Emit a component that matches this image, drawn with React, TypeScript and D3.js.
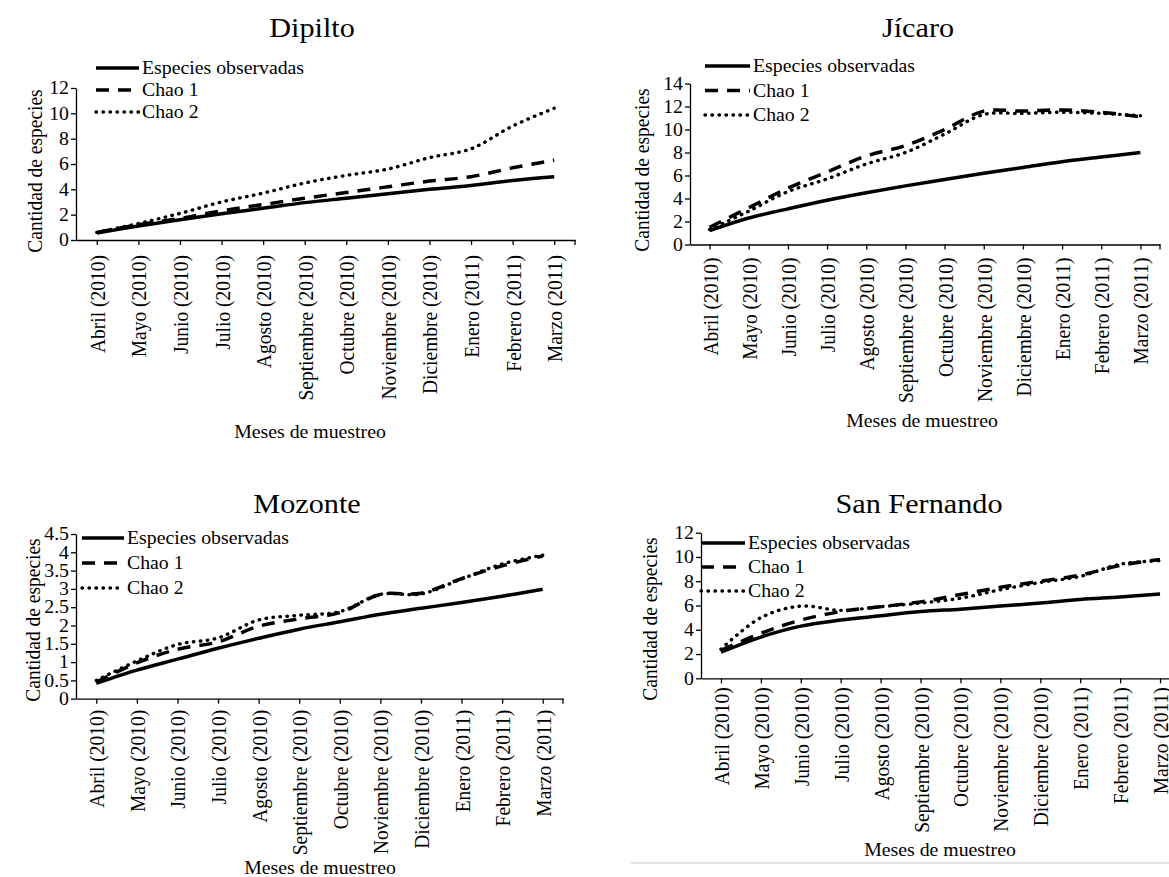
import * as d3 from 'd3';
import React, { useEffect, useRef } from 'react';

// Sampling months (x categories, shared by all four panels)
const months = [
  "Abril (2010)", "Mayo (2010)", "Junio (2010)", "Julio (2010)", "Agosto (2010)",
  "Septiembre (2010)", "Octubre (2010)", "Noviembre (2010)", "Diciembre (2010)",
  "Enero (2011)", "Febrero (2011)", "Marzo (2011)",
];
const seriesNames = ["Especies observadas", "Chao 1", "Chao 2"];

// Dipilto
const dipiltoObs = [0.55, 1.1, 1.6, 2.07, 2.5, 2.95, 3.3, 3.65, 4.0, 4.3, 4.7, 5.0];
const dipiltoChao1 = [0.6, 1.2, 1.7, 2.3, 2.8, 3.3, 3.75, 4.2, 4.65, 5.0, 5.7, 6.3];
const dipiltoChao2 = [0.6, 1.3, 2.1, 3.0, 3.7, 4.5, 5.1, 5.6, 6.5, 7.2, 9.0, 10.4];

// Jícaro
const jicaroObs = [1.2, 2.3, 3.1, 3.85, 4.5, 5.1, 5.65, 6.2, 6.7, 7.2, 7.6, 8.0];
const jicaroChao1 = [1.5, 3.2, 4.9, 6.3, 7.7, 8.6, 10.0, 11.6, 11.6, 11.7, 11.5, 11.1];
const jicaroChao2 = [1.3, 2.9, 4.6, 5.7, 7.0, 8.0, 9.6, 11.3, 11.4, 11.5, 11.4, 11.2];

// Mozonte
const mozonteObs = [0.42, 0.78, 1.08, 1.38, 1.65, 1.9, 2.1, 2.31, 2.47, 2.63, 2.8, 2.99];
const mozonteChao1 = [0.45, 0.98, 1.35, 1.55, 1.98, 2.18, 2.35, 2.85, 2.88, 3.28, 3.63, 3.9];
const mozonteChao2 = [0.5, 1.03, 1.48, 1.66, 2.15, 2.28, 2.38, 2.85, 2.86, 3.27, 3.68, 3.92];

// San Fernando
const sanFernandoObs = [2.15, 3.4, 4.3, 4.8, 5.15, 5.5, 5.7, 5.95, 6.2, 6.5, 6.7, 6.95];
const sanFernandoChao1 = [2.3, 3.7, 4.8, 5.5, 5.9, 6.3, 6.9, 7.5, 8.0, 8.5, 9.3, 9.8];
const sanFernandoChao2 = [2.4, 5.0, 5.95, 5.6, 5.9, 6.2, 6.6, 7.3, 7.9, 8.4, 9.4, 9.7];

// Y tick labels
const ticksDipilto = [0, 2, 4, 6, 8, 10, 12];
const ticksJicaro = [0, 2, 4, 6, 8, 10, 12, 14];
const ticksMozonte = [0, 0.5, 1, 1.5, 2, 2.5, 3, 3.5, 4, 4.5];
const ticksSanFernando = [0, 2, 4, 6, 8, 10, 12];

// Line styles for the three series
const seriesStyles = [
  { width: 3.5, dash: null as string | null, cap: "butt" },
  { width: 3.5, dash: "13 9", cap: "butt" },
  { width: 3.4, dash: "0.5 6.5", cap: "round" },
];

// Panel layout (page pixels)
const panels = [
  {
    title: "Dipilto", series: [dipiltoObs, dipiltoChao1, dipiltoChao2], yTicks: ticksDipilto,
    x0: 76, x1: 575, yTop: 88, yBottom: 240,
    titleX: 312, titleY: 37, legendX: 96, legendW: 43, legendRows: [68, 90, 112],
    yTitleX: 34, yTitleY: 171, labelGap: 15, xTitleX: 310, xTitleY: 438,
  },
  {
    title: "Jícaro", series: [jicaroObs, jicaroChao1, jicaroChao2], yTicks: ticksJicaro,
    x0: 690, x1: 1160, yTop: 83.5, yBottom: 244.5,
    titleX: 918, titleY: 37, legendX: 705, legendW: 45, legendRows: [66, 90.5, 115],
    yTitleX: 641, yTitleY: 170, labelGap: 13, xTitleX: 922, xTitleY: 427,
  },
  {
    title: "Mozonte", series: [mozonteObs, mozonteChao1, mozonteChao2], yTicks: ticksMozonte,
    x0: 76, x1: 563, yTop: 534, yBottom: 698.7,
    titleX: 307, titleY: 513, legendX: 82, legendW: 42, legendRows: [538, 563, 588],
    yTitleX: 32, yTitleY: 620, labelGap: 11, xTitleX: 320, xTitleY: 874,
  },
  {
    title: "San Fernando", series: [sanFernandoObs, sanFernandoChao1, sanFernandoChao2], yTicks: ticksSanFernando,
    x0: 701, x1: 1180, yTop: 532.7, yBottom: 678.3,
    titleX: 919, titleY: 513, legendX: 701, legendW: 44, legendRows: [543, 567, 591],
    yTitleX: 649, yTitleY: 619, labelGap: 9, xTitleX: 940, xTitleY: 856,
  },
];

const W = 1169;
const H = 877;
const FONT = '"Liberation Serif", "Times New Roman", Times, serif';
const SX = 1.1; // text in the source is slightly stretched horizontally

const App: React.FC = () => {
  const ref = useRef<SVGSVGElement>(null);

  useEffect(() => {
    if (!ref.current) return;
    const svg = d3.select(ref.current);
    svg.selectAll("*").remove();

    svg.append("rect").attr("width", W).attr("height", H).attr("fill", "#fff");

    // light grey border fragment under the San Fernando chart
    svg.append("line")
      .attr("x1", 631).attr("x2", W).attr("y1", 863).attr("y2", 863)
      .attr("stroke", "#d9d9d9").attr("stroke-width", 1.5);

    panels.forEach(p => {
      const g = svg.append("g").attr("fill", "#000");

      const x = d3.scalePoint<string>().domain(months).range([p.x0, p.x1]).padding(0.5);
      const yMax = p.yTicks[p.yTicks.length - 1];
      const y = d3.scaleLinear().domain([0, yMax]).range([p.yBottom, p.yTop]);

      // Title
      g.append("text")
        .attr("transform", `translate(${p.titleX},${p.titleY}) scale(1.12,1)`)
        .attr("text-anchor", "middle")
        .style("font-family", FONT)
        .style("font-size", "27px")
        .text(p.title);

      // Y axis
      const yAxis = g.append("g")
        .attr("transform", `translate(${p.x0},0)`)
        .call(d3.axisLeft(y).tickValues(p.yTicks).tickSize(5).tickSizeOuter(0).tickFormat(d => String(d)));
      yAxis.attr("font-family", null).attr("font-size", null).attr("color", "#000");
      yAxis.selectAll("path, line").attr("stroke-width", 1.3);
      yAxis.selectAll("text")
        .style("font-family", FONT)
        .style("font-size", "18px")
        .attr("x", -7 / SX)
        .attr("transform", `scale(${SX},1)`);

      // X axis
      const xAxis = g.append("g")
        .attr("transform", `translate(0,${p.yBottom})`)
        .call(d3.axisBottom(x).tickSize(5).tickSizeOuter(0));
      xAxis.attr("font-family", null).attr("font-size", null).attr("color", "#000");
      xAxis.selectAll("path, line").attr("stroke-width", 1.3);
      xAxis.selectAll("text")
        .style("font-family", FONT)
        .style("font-size", "19.5px")
        .attr("transform", `rotate(-90) scale(1,${SX})`)
        .attr("text-anchor", "end")
        .attr("x", -p.labelGap)
        .attr("y", 0)
        .attr("dy", "0.35em");
      // end tick at the right edge of the axis
      xAxis.append("line")
        .attr("x1", p.x1).attr("x2", p.x1).attr("y1", 0).attr("y2", 5)
        .attr("stroke", "#000").attr("stroke-width", 1.3);

      // Axis titles
      g.append("text")
        .attr("transform", `translate(${p.yTitleX},${p.yTitleY}) rotate(-90) scale(1,${SX})`)
        .attr("text-anchor", "middle")
        .attr("dy", "0.35em")
        .style("font-family", FONT)
        .style("font-size", "19.5px")
        .text("Cantidad de especies");

      g.append("text")
        .attr("transform", `translate(${p.xTitleX},${p.xTitleY}) scale(${SX},1)`)
        .attr("text-anchor", "middle")
        .style("font-family", FONT)
        .style("font-size", "18px")
        .text("Meses de muestreo");

      // Series lines
      const line = d3.line<number>()
        .x((_, i) => x(months[i]) as number)
        .y(d => y(d))
        .curve(d3.curveCatmullRom.alpha(0.5));

      p.series.forEach((vals, k) => {
        const s = seriesStyles[k];
        g.append("path")
          .attr("d", line(vals) as string)
          .attr("fill", "none")
          .attr("stroke", "#000")
          .attr("stroke-width", s.width)
          .attr("stroke-linecap", s.cap)
          .attr("stroke-dasharray", s.dash);
      });

      // Legend
      seriesNames.forEach((name, k) => {
        const s = seriesStyles[k];
        const ly = p.legendRows[k];
        g.append("line")
          .attr("x1", p.legendX).attr("x2", p.legendX + p.legendW)
          .attr("y1", ly).attr("y2", ly)
          .attr("stroke", "#000")
          .attr("stroke-width", s.width)
          .attr("stroke-linecap", s.cap)
          .attr("stroke-dasharray", s.dash);
        g.append("text")
          .attr("transform", `translate(${p.legendX + p.legendW + 3},${ly}) scale(${SX},1)`)
          .attr("dy", "0.35em")
          .style("font-family", FONT)
          .style("font-size", "18px")
          .text(name);
      });
    });
  }, []);

  return (
    <svg
      ref={ref}
      width={W}
      height={H}
      style={{ position: "absolute", left: 0, top: 0, display: "block", fontFamily: FONT }}
    ></svg>
  );
};

export default App;
